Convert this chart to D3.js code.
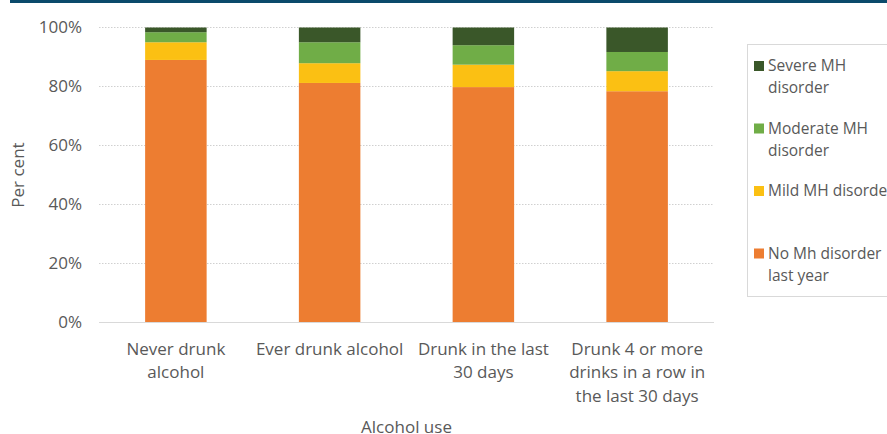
<!DOCTYPE html>
<html>
<head>
<meta charset="utf-8">
<script src="https://cdn.jsdelivr.net/npm/d3@7"></script>
<style>
  body { margin: 0; background: #fff; }
  text { font-family: "Open Sans", Lato, sans-serif; fill: #595959; }
</style>
</head>
<body>
<div id="chart"></div>
<script>
var categories = [
  ['Never drunk', 'alcohol'],
  ['Ever drunk alcohol'],
  ['Drunk in the last', '30 days'],
  ['Drunk 4 or more', 'drinks in a row in', 'the last 30 days']
];
var seriesNames = ['No Mh disorder last year', 'Mild MH disorder', 'Moderate MH disorder', 'Severe MH disorder'];
var legendLines = [['No Mh disorder', 'last year'], ['Mild MH disorder'], ['Moderate MH', 'disorder'], ['Severe MH', 'disorder']];
var noMH = [89.0, 81.2, 79.8, 78.4];
var mildMH = [6.0, 6.7, 7.6, 6.8];
var moderateMH = [3.4, 7.1, 6.6, 6.5];
var severeMH = [1.6, 5.0, 6.0, 8.3];
var yTicks = [0, 20, 40, 60, 80, 100];
var colors = ['#ED7D31', '#FBC013', '#70AD47', '#3A5729'];

var width = 887, height = 434;
var margin = {left: 99, right: 173, top: 27.5, bottom: 111.5};

var svg = d3.select('#chart').append('svg')
  .attr('width', width)
  .attr('height', height);

// dark rule at the top
svg.append('rect')
  .attr('x', 10).attr('y', 0)
  .attr('width', width - 10).attr('height', 3)
  .attr('fill', '#0B4A6B');

var rows = categories.map(function(c, i) {
  return {key: i, a: noMH[i], b: mildMH[i], c: moderateMH[i], d: severeMH[i]};
});
var stack = d3.stack().keys(['a', 'b', 'c', 'd']);
var layers = stack(rows);

var x = d3.scaleBand()
  .domain(d3.range(categories.length))
  .range([margin.left, width - margin.right])
  .paddingInner(0.6)
  .paddingOuter(0.3);

var y = d3.scaleLinear()
  .domain([0, 100])
  .range([height - margin.bottom, margin.top]);

// gridlines
svg.append('g')
  .selectAll('line')
  .data(yTicks.filter(function(t) { return t > 0; }))
  .enter().append('line')
  .attr('x1', margin.left).attr('x2', width - margin.right)
  .attr('y1', function(d) { return y(d); })
  .attr('y2', function(d) { return y(d); })
  .attr('stroke', '#D0D0D0')
  .attr('stroke-dasharray', '1.5,1.5');

// y axis labels
var yAxis = d3.axisLeft(y)
  .tickValues(yTicks)
  .tickFormat(function(d) { return d + '%'; })
  .tickSize(0)
  .tickPadding(17);
var yg = svg.append('g')
  .attr('transform', 'translate(' + margin.left + ',0)')
  .call(yAxis);
yg.select('.domain').remove();
yg.selectAll('text')
  .style('font-size', '17px')
  .attr('fill', '#595959');

// bars
svg.append('g')
  .selectAll('g')
  .data(layers)
  .enter().append('g')
  .attr('fill', function(d, i) { return colors[i]; })
  .selectAll('rect')
  .data(function(d) { return d; })
  .enter().append('rect')
  .attr('x', function(d) { return x(d.data.key); })
  .attr('width', x.bandwidth())
  .attr('y', function(d) { return y(d[1]); })
  .attr('height', function(d) { return y(d[0]) - y(d[1]); });

// baseline
svg.append('line')
  .attr('x1', margin.left).attr('x2', width - margin.right)
  .attr('y1', y(0)).attr('y2', y(0))
  .attr('stroke', '#D9D9D9')
  .attr('stroke-width', 1);

// x labels
var xl = svg.append('g')
  .selectAll('text')
  .data(categories)
  .enter().append('text')
  .attr('text-anchor', 'middle')
  .style('font-size', '17px')
  .attr('transform', function(d, i) {
    return 'translate(' + (x(i) + x.bandwidth() / 2) + ',' + (y(0) + 32) + ')';
  });
xl.selectAll('tspan')
  .data(function(d) { return d; })
  .enter().append('tspan')
  .attr('x', 0)
  .attr('y', function(d, i) { return i * 23.5; })
  .text(function(d) { return d; });

// axis titles
svg.append('text')
  .attr('x', (margin.left + width - margin.right) / 2)
  .attr('y', 433)
  .attr('text-anchor', 'middle')
  .style('font-size', '17px')
  .text('Alcohol use');

svg.append('text')
  .attr('transform', 'translate(24,' + y(50) + ') rotate(-90)')
  .attr('text-anchor', 'middle')
  .style('font-size', '17px')
  .text('Per cent');

// legend
var legend = svg.append('g');
legend.append('rect')
  .attr('x', 747.5).attr('y', 44.5)
  .attr('width', 160).attr('height', 252)
  .attr('fill', 'none')
  .attr('stroke', '#D9D9D9');

var order = [3, 2, 1, 0];
var item = legend.selectAll('.legend')
  .data(order)
  .enter().append('g')
  .attr('class', 'legend')
  .attr('transform', function(d, i) {
    return 'translate(754,' + (66 + i * 62.5) + ')';
  });
item.append('rect')
  .attr('x', 0).attr('y', -5)
  .attr('width', 10).attr('height', 10)
  .attr('fill', function(d) { return colors[d]; });
var lt = item.append('text')
  .style('font-size', '15.5px');
lt.selectAll('tspan')
  .data(function(d) { return legendLines[d]; })
  .enter().append('tspan')
  .attr('x', 14)
  .attr('y', function(d, i) { return 5 + i * 22; })
  .text(function(d) { return d; });
</script>
</body>
</html>
